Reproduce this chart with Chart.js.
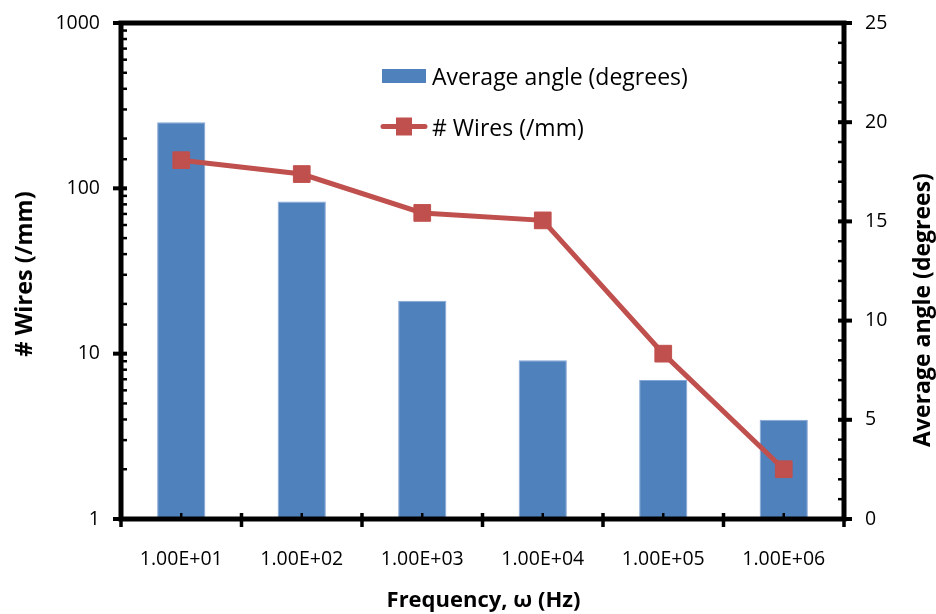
<!DOCTYPE html>
<html><head><meta charset="utf-8">
<script src="https://cdn.jsdelivr.net/npm/chart.js@4.4.0/dist/chart.umd.min.js"></script>
<style>html,body{margin:0;padding:0;background:#fff;overflow:hidden}canvas{display:block}</style>
</head><body>
<canvas id="c" width="936" height="614"></canvas>
<script>
// ---- data ----
const categories = ['1.00E+01', '1.00E+02', '1.00E+03', '1.00E+04', '1.00E+05', '1.00E+06'];
const avgAngle = [20, 16, 11, 8, 7, 5];          // right axis (degrees)
const wires = [148, 122, 71, 64, 10, 2];         // left log axis (/mm)
const leftTicks = [1, 10, 100, 1000];
const rightTicks = [0, 5, 10, 15, 20, 25];
const seriesLabels = ['Average angle (degrees)', '# Wires (/mm)'];
const xTitle = 'Frequency, ω (Hz)';
const leftTitle = '# Wires (/mm)';
const rightTitle = 'Average angle (degrees)';

const FONT = '"Open Sans", "Noto Sans", sans-serif';
const BAR = '#4F81BD', LINE = '#C0504D';
const W = 936, H = 614;
const AREA = {left: 121, right: 844, top: 23, bottom: 519};

const decor = {
  id: 'decor',
  afterDraw(chart) {
    const ctx = chart.ctx, ca = chart.chartArea;
    const xs = chart.scales.x, yl = chart.scales.yL, yr = chart.scales.yR;
    ctx.save();
    ctx.strokeStyle = '#000';
    ctx.lineCap = 'butt';
    // left axis ticks
    yl.ticks.forEach(t => {
      const y = yl.getPixelForValue(t.value);
      const major = leftTicks.includes(t.value);
      ctx.lineWidth = major ? 4 : 2.5;
      ctx.beginPath();
      ctx.moveTo(major ? ca.left - 8 : ca.left, y);
      ctx.lineTo(ca.left + 6, y);
      ctx.stroke();
    });
    // right axis ticks
    for (let v = 0; v <= 25; v++) {
      const y = yr.getPixelForValue(v);
      const major = rightTicks.includes(v);
      ctx.lineWidth = major ? 4 : 2.5;
      ctx.beginPath();
      ctx.moveTo(ca.right - 6, y);
      ctx.lineTo(major ? ca.right + 8 : ca.right, y);
      ctx.stroke();
    }
    // x axis ticks
    const half = (xs.getPixelForValue(1) - xs.getPixelForValue(0)) / 2;
    for (let i = 0; i <= categories.length; i++) {
      const x = xs.getPixelForValue(0) - half + i * 2 * half;
      ctx.lineWidth = 3.5;
      ctx.beginPath();
      ctx.moveTo(x, ca.bottom - 6);
      ctx.lineTo(x, ca.bottom + 8);
      ctx.stroke();
    }
    categories.forEach((c, i) => {
      const x = xs.getPixelForValue(i);
      ctx.lineWidth = 2.5;
      ctx.beginPath();
      ctx.moveTo(x, ca.bottom - 6);
      ctx.lineTo(x, ca.bottom);
      ctx.stroke();
    });
    // frame
    ctx.lineWidth = 5;
    ctx.strokeRect(ca.left, ca.top, ca.right - ca.left, ca.bottom - ca.top);

    // axis titles
    ctx.fillStyle = '#000';
    ctx.textAlign = 'center';
    ctx.textBaseline = 'alphabetic';
    ctx.font = 'bold 22px ' + FONT;
    ctx.fillText(xTitle, (ca.left + ca.right) / 2 + 1, 607);
    ctx.font = 'bold 23.5px ' + FONT;
    ctx.save();
    ctx.translate(32, 274);
    ctx.rotate(-Math.PI / 2);
    ctx.fillText(leftTitle, 0, 0);
    ctx.restore();
    ctx.font = 'bold 23px ' + FONT;
    ctx.save();
    ctx.translate(930, 310);
    ctx.rotate(-Math.PI / 2);
    ctx.fillText(rightTitle, 0, 0);
    ctx.restore();

    // legend
    const ds = chart.data.datasets;
    ctx.font = '23px ' + FONT;
    ctx.textAlign = 'left';
    ctx.fillStyle = ds[0].backgroundColor;
    ctx.fillRect(382, 69, 44, 14);
    ctx.fillStyle = '#000';
    ctx.fillText(ds[0].label, 432, 85);
    ctx.strokeStyle = ds[1].borderColor;
    ctx.lineWidth = 5;
    ctx.lineCap = 'round';
    ctx.beginPath();
    ctx.moveTo(383, 126.5);
    ctx.lineTo(425, 126.5);
    ctx.stroke();
    ctx.fillStyle = ds[1].pointBackgroundColor;
    ctx.fillRect(396, 117.5, 16, 18);
    ctx.fillStyle = '#000';
    ctx.fillText(ds[1].label, 432, 136);
    ctx.restore();
  }
};

function noPad(s) { s.paddingTop = 0; s.paddingBottom = 0; s.paddingLeft = 0; s.paddingRight = 0; }

new Chart(document.getElementById('c'), {
  data: {
    labels: categories,
    datasets: [
      {
        type: 'bar', label: seriesLabels[0], data: avgAngle, yAxisID: 'yR',
        backgroundColor: BAR, borderColor: '#86A6D6', borderWidth: 1,
        barPercentage: 0.4, categoryPercentage: 1.0, order: 1
      },
      {
        type: 'line', label: seriesLabels[1], data: wires, yAxisID: 'yL',
        borderColor: LINE, borderWidth: 5, tension: 0,
        pointStyle: 'rect', pointRadius: 11.8, pointHoverRadius: 11.8,
        pointBackgroundColor: LINE, pointBorderColor: LINE, pointBorderWidth: 1,
        order: 0, clip: false
      }
    ]
  },
  options: {
    responsive: false, animation: false, devicePixelRatio: 1,
    layout: {padding: {top: AREA.top, left: 0, right: 0, bottom: 0}},
    plugins: {legend: {display: false}, tooltip: {enabled: false}, title: {display: false}},
    events: [],
    scales: {
      x: {
        type: 'category', position: 'bottom', offset: true,
        grid: {display: false, drawTicks: false}, border: {display: false},
        ticks: {color: '#000', font: {family: FONT, size: 19.5}, padding: 29, maxRotation: 0, minRotation: 0, autoSkip: false},
        afterFit(s) { s.height = H - AREA.bottom; noPad(s); }
      },
      yL: {
        type: 'logarithmic', position: 'left', min: 1, max: 1000,
        grid: {display: false, drawTicks: false}, border: {display: false},
        ticks: {
          color: '#000', font: {family: FONT, size: 19.5}, padding: 21, autoSkip: false,
          callback: v => leftTicks.includes(v) ? String(v) : ''
        },
        afterFit(s) { s.width = AREA.left; noPad(s); }
      },
      yR: {
        type: 'linear', position: 'right', min: 0, max: 25,
        grid: {display: false, drawTicks: false}, border: {display: false},
        ticks: {
          color: '#000', font: {family: FONT, size: 19.5}, padding: 21, stepSize: 5,
          callback: v => rightTicks.includes(v) ? String(v) : ''
        },
        afterFit(s) { s.width = W - AREA.right; noPad(s); }
      }
    }
  },
  plugins: [decor]
});
</script>
</body></html>
